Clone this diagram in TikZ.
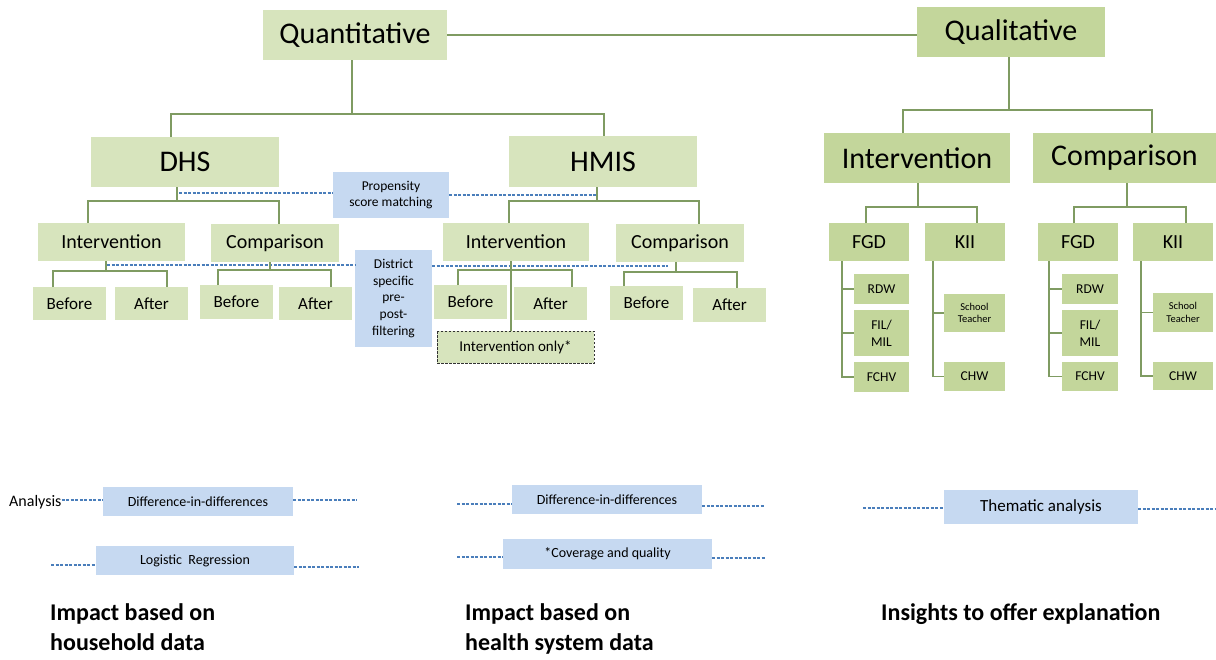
\documentclass[tikz,border=0pt]{standalone}
\usepackage{fontspec}
\setmainfont{Carlito}
\usetikzlibrary{calc}
\definecolor{lg}{HTML}{D7E4BD}
\definecolor{dg}{HTML}{C3D69B}
\definecolor{bl}{HTML}{C6D9F1}
\definecolor{lnc}{HTML}{7F9B62}
\definecolor{dlc}{HTML}{4A7EBB}
\tikzset{
  box/.style={inner sep=0pt, outer sep=0pt, align=center},
  qn/.style={box, fill=lg},
  ql/.style={box, fill=dg},
  bb/.style={box, fill=bl},
  tree/.style={draw=lnc, line width=1.3pt},
  dline/.style={draw=dlc, line width=1.2pt, dash pattern=on 3pt off 1.5pt},
  f30/.style={font=\fontsize{30}{36}\selectfont},
  f20/.style={font=\fontsize{20}{24}\selectfont},
  f17/.style={font=\fontsize{17}{20}\selectfont},
  f16/.style={font=\fontsize{16}{19}\selectfont},
  f15/.style={font=\fontsize{15}{18}\selectfont},
  f14/.style={font=\fontsize{14}{17}\selectfont},
  f13/.style={font=\fontsize{13.5}{16.8}\selectfont},
  f10/.style={font=\fontsize{10.5}{12.5}\selectfont},
  f24b/.style={font=\fontsize{24}{30}\selectfont\bfseries},
}
\newcommand\bx[7]{\node[#6, minimum width={(#4)-(#2)}, minimum height={(#5)-(#3)}] (#1) at ({((#2)+(#4))/2},{((#3)+(#5))/2}) {#7};}
\begin{document}
\begin{tikzpicture}[x=1pt,y=-1pt]
\useasboundingbox (0,0) rectangle (1216,659);
% ---- boxes: quantitative
\bx{quant}{263}{10}{447}{60}{qn,f30}{Quantitative}
\bx{qual}{917}{7}{1105}{57}{ql,f30}{Qualitative}
\bx{dhs}{91}{137}{279}{187}{qn,f30}{DHS}
\bx{hmis}{509}{136}{697}{187}{qn,f30}{HMIS}
\bx{psm}{333}{172}{449}{218}{bb,f13}{Propensity\\score matching}
\bx{dint}{38}{223}{185}{261}{qn,f20}{Intervention}
\bx{dcmp}{211}{224}{339}{262}{qn,f20}{Comparison}
\bx{db1}{33}{287}{106}{320}{qn,f17}{Before}
\bx{da1}{115}{287}{188}{320}{qn,f17}{After}
\bx{db2}{200}{285}{273}{319}{qn,f17}{Before}
\bx{da2}{279}{287}{352}{320}{qn,f17}{After}
\bx{dsp}{355}{250}{432}{347}{bb,f13}{District\\specific\\pre-\\post-\\filtering}
\bx{hint}{443}{223}{589}{261}{qn,f20}{Intervention}
\bx{hcmp}{616}{224}{744}{262}{qn,f20}{Comparison}
\bx{hb1}{434}{285}{507}{319}{qn,f17}{Before}
\bx{ha1}{514}{287}{587}{320}{qn,f17}{After}
\bx{hb2}{610}{286}{683}{320}{qn,f17}{Before}
\bx{ha2}{693}{288}{766}{322}{qn,f17}{After}
% ---- qualitative
\bx{qint}{824}{133}{1010}{183}{ql,f30}{Intervention}
\bx{qcmp}{1033}{133}{1216}{183}{ql,f30}{Comparison}
\bx{fgda}{829}{223}{909}{261}{ql,f20}{FGD}
\bx{kiia}{925}{223}{1005}{261}{ql,f20}{KII}
\bx{rdwa}{854}{274}{909}{304}{ql,f13}{RDW}
\bx{fila}{854}{310}{909}{356}{ql,f13}{FIL/\\MIL}
\bx{fchva}{854}{362}{909}{392}{ql,f13}{FCHV}
\bx{sta}{944}{294}{1005}{332}{ql,f10}{School\\Teacher}
\bx{chwa}{944}{362}{1005}{391}{ql,f13}{CHW}
\bx{fgdb}{1038}{223}{1118}{261}{ql,f20}{FGD}
\bx{kiib}{1133}{223}{1213}{261}{ql,f20}{KII}
\bx{rdwb}{1062}{274}{1118}{304}{ql,f13}{RDW}
\bx{filb}{1062}{310}{1118}{356}{ql,f13}{FIL/\\MIL}
\bx{fchvb}{1062}{362}{1118}{391}{ql,f13}{FCHV}
\bx{stb}{1153}{293}{1213}{332}{ql,f10}{School\\Teacher}
\bx{chwb}{1153}{362}{1213}{390}{ql,f13}{CHW}
% ---- analysis
\node[anchor=west, inner sep=0pt, f16] (anl) at (9,502) {Analysis};
\bx{dida}{103}{487}{293}{516}{bb,f14}{Difference-in-differences}
\bx{logr}{96}{546}{294}{575}{bb,f14}{Logistic\ \ Regression}
\bx{didb}{512}{485}{702}{514}{bb,f14}{Difference-in-differences}
\bx{cov}{503}{539}{712}{569}{bb,f14}{*Coverage and quality}
\bx{them}{944}{490}{1138}{524}{bb,f17}{Thematic analysis}
% ---- free ends of dashed lines
\coordinate (psmL) at (179,193);
\coordinate (psmR) at (597,195);
\coordinate (dspL) at (107,265);
\coordinate (dspR) at (668,266);
\coordinate (e1) at (357,500);
\coordinate (e2a) at (51,565);
\coordinate (e2b) at (359,567);
\coordinate (e3a) at (457,504);
\coordinate (e3b) at (765,506);
\coordinate (e4a) at (457,557);
\coordinate (e4b) at (765,558);
\coordinate (e5a) at (863,508);
\coordinate (e5b) at (1216,509);
% ---- dashed lines
\draw[dline] (psmL) -- (psmL -| psm.west);
\draw[dline] (psmR -| psm.east) -- (psmR);
\draw[dline] (dspL) -- (dspL -| dsp.west);
\draw[dline] (dspR -| dsp.east) -- (dspR);
\draw[dline] (anl.east |- 0,500) -- (dida.west |- 0,500);
\draw[dline] (dida.east |- e1) -- (e1);
\draw[dline] (e2a) -- (e2a -| logr.west);
\draw[dline] (logr.east |- e2b) -- (e2b);
\draw[dline] (e3a) -- (e3a -| didb.west);
\draw[dline] (didb.east |- e3b) -- (e3b);
\draw[dline] (e4a) -- (e4a -| cov.west);
\draw[dline] (cov.east |- e4b) -- (e4b);
\draw[dline] (e5a) -- (e5a -| them.west);
\draw[dline] (them.east |- e5b) -- (e5b);
% ---- dashed box
\bx{honly}{437}{331}{594}{363}{qn,f15}{Intervention only*}
\draw[black!80, line width=1pt, dash pattern=on 2.5pt off 1.5pt] (honly.north west) rectangle (honly.south east);
% ---- tree connectors
\draw[tree] (quant.east) -- (quant.east -| qual.west);
\draw[tree] (quant.south -| 352,0) -- (352,114);
\draw[tree] (dhs.north -| 171,0) -- (171,114) -| (hmis.north -| 604,0);
\draw[tree] (dhs.south -| 177,0) -- (177,201);
\draw[tree] (dint.north -| 88,0) -- (88,201) -| (dcmp.north -| 279,0);
\draw[tree] (dint.south -| 106,0) -- (106,271);
\draw[tree] (db1.north -| 53,0) -- (53,271) -| (da1.north -| 167,0);
\draw[tree] (dcmp.south -| 270,0) -- (270,270);
\draw[tree] (db2.north -| 218,0) -- (218,270) -| (da2.north -| 331,0);
\draw[tree] (hmis.south -| 597,0) -- (597,201);
\draw[tree] (hint.north -| 509,0) -- (509,201) -| (hcmp.north -| 699,0);
\draw[tree] (hint.south -| 511,0) -- (honly.north -| 511,0);
\draw[tree] (hb1.north -| 458,0) -- (458,270) -| (ha1.north -| 572,0);
\draw[tree] (hcmp.south -| 676,0) -- (676,272);
\draw[tree] (hb2.north -| 624,0) -- (624,272) -| (ha2.north -| 737,0);
\draw[tree] (qual.south -| 1009,0) -- (1009,110);
\draw[tree] (qint.north -| 903,0) -- (903,110) -| (qcmp.north -| 1152,0);
\draw[tree] (qint.south -| 918,0) -- (918,207);
\draw[tree] (fgda.north -| 866,0) -- (866,207) -| (kiia.north -| 977,0);
\draw[tree] (qcmp.south -| 1127,0) -- (1127,207);
\draw[tree] (fgdb.north -| 1074,0) -- (1074,207) -| (kiib.north -| 1186,0);
\draw[tree] (fgda.south -| 842,0) |- (fchva.west);
\draw[tree] (rdwa.west -| 842,0) -- (rdwa.west);
\draw[tree] (fila.west -| 842,0) -- (fila.west);
\draw[tree] (kiia.south -| 933,0) |- (chwa.west);
\draw[tree] (sta.west -| 933,0) -- (sta.west);
\draw[tree] (fgdb.south -| 1049,0) |- (fchvb.west);
\draw[tree] (rdwb.west -| 1049,0) -- (rdwb.west);
\draw[tree] (filb.west -| 1049,0) -- (filb.west);
\draw[tree] (kiib.south -| 1141,0) |- (chwb.west);
\draw[tree] (stb.west -| 1141,0) -- (stb.west);
% ---- captions
\node[anchor=north west, inner sep=0pt, align=left, f24b] (cap1) at (50,603) {Impact based on\\household data};
\node[anchor=north west, inner sep=0pt, align=left, f24b] (cap2) at (465,603) {Impact based on\\health system data};
\node[anchor=north west, inner sep=0pt, align=left, f24b] (cap3) at (881,603) {Insights to offer explanation};
\end{tikzpicture}
\end{document}
